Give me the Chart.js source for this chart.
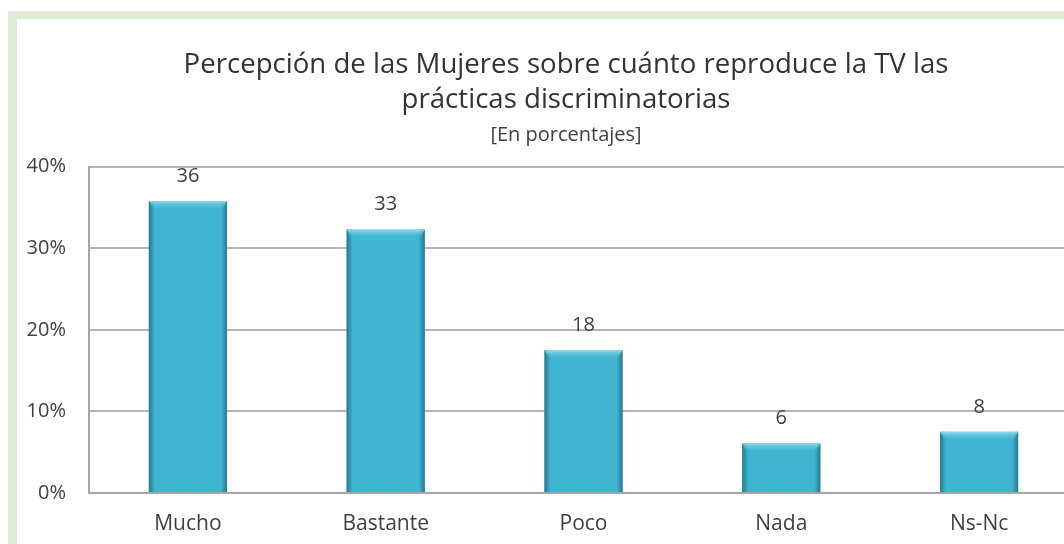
<!DOCTYPE html>
<html>
<head>
<meta charset="utf-8">
<script src="https://cdn.jsdelivr.net/npm/chart.js@4.4.1/dist/chart.umd.min.js"></script>
<style>
  html, body { margin: 0; padding: 0; background: #ffffff; overflow: hidden; width: 1064px; height: 544px; }
  #frame { position: absolute; left: 8px; top: 11px; width: 1200px; height: 700px; background: #dfebd5; }
  #inner { position: absolute; left: 17px; top: 19px; width: 1200px; height: 700px; background: #ffffff; }
  #wrap { position: absolute; left: 18px; top: 18px; width: 1096px; height: 520px; }
</style>
</head>
<body>
<div id="frame"></div>
<div id="inner"></div>
<div id="wrap"><canvas id="c"></canvas></div>
<script>
const categories = ["Mucho", "Bastante", "Poco", "Nada", "Ns-Nc"];
const values = [35.8, 32.3, 17.5, 6.1, 7.5];
const valueLabels = ["36", "33", "18", "6", "8"];
const yTicks = [0, 10, 20, 30, 40];
const titleLines = ["Percepción de las Mujeres sobre cuánto reproduce la TV las", "prácticas discriminatorias"];
const subtitleText = "[En porcentajes]";

const FONT = "'Open Sans', 'Noto Sans', sans-serif";

// shift the title block so it is centred over the whole (cropped) frame like the original
const titleShift = {
  id: 'titleShift',
  afterLayout(chart) {
    chart.boxes.forEach(b => {
      if (b.position === 'top' && b.options && 'text' in b.options) {
        b.left += 18; b.right += 18;
      }
    });
  }
};

const barStyle = {
  id: 'barStyle',
  afterDatasetsDraw(chart) {
    const ctx = chart.ctx;
    const meta = chart.getDatasetMeta(0);
    meta.data.forEach((bar, i) => {
      const p = bar.getProps(['x', 'y', 'base', 'width'], true);
      const l = p.x - p.width / 2, r = p.x + p.width / 2, t = p.y, b = p.base;
      ctx.save();
      let g = ctx.createLinearGradient(l, 0, l + 6, 0);
      g.addColorStop(0, 'rgba(30,110,135,0.85)');
      g.addColorStop(1, 'rgba(30,110,135,0)');
      ctx.fillStyle = g; ctx.fillRect(l, t, 6, b - t);
      g = ctx.createLinearGradient(r, 0, r - 6, 0);
      g.addColorStop(0, 'rgba(30,110,135,0.85)');
      g.addColorStop(1, 'rgba(30,110,135,0)');
      ctx.fillStyle = g; ctx.fillRect(r - 6, t, 6, b - t);
      g = ctx.createLinearGradient(0, t, 0, t + 7);
      g.addColorStop(0, 'rgba(150,220,238,0.95)');
      g.addColorStop(1, 'rgba(90,195,220,0.2)');
      ctx.fillStyle = g;
      ctx.beginPath();
      ctx.moveTo(l, t); ctx.lineTo(r, t); ctx.lineTo(r - 4, t + 7); ctx.lineTo(l + 4, t + 7); ctx.closePath();
      ctx.fill();
      ctx.fillStyle = '#404040';
      ctx.font = "20px " + FONT;
      ctx.textAlign = 'center';
      ctx.textBaseline = 'middle';
      ctx.fillText(valueLabels[i], p.x, t - 25);
      ctx.restore();
    });
  }
};

new Chart(document.getElementById('c'), {
  type: 'bar',
  data: {
    labels: categories,
    datasets: [{
      data: values,
      backgroundColor: '#3fb5d0',
      borderWidth: 0,
      categoryPercentage: 1.0,
      barPercentage: 0.395
    }]
  },
  options: {
    responsive: true,
    maintainAspectRatio: false,
    animation: false,
    layout: { padding: { left: 0, right: 36, top: 0, bottom: 0 } },
    plugins: {
      legend: { display: false },
      tooltip: { enabled: false },
      title: {
        display: true,
        text: titleLines,
        color: '#333333',
        font: { family: FONT, size: 27.6, weight: 'normal', lineHeight: 1.28 },
        padding: { top: 29, bottom: 3 }
      },
      subtitle: {
        display: true,
        text: subtitleText,
        color: '#404040',
        font: { family: FONT, size: 20, weight: 'normal', lineHeight: 1.2 },
        padding: { top: 3, bottom: 19 }
      }
    },
    scales: {
      x: {
        grid: { display: false, drawTicks: false },
        border: { display: true, color: '#a6a6a6', width: 2 },
        ticks: { color: '#404040', font: { family: FONT, size: 21 }, padding: 18 },
        afterFit(scale) { scale.height = 45; }
      },
      y: {
        min: 0, max: 40,
        afterBuildTicks(scale) { scale.ticks = yTicks.map(v => ({ value: v })); },
        grid: { color: '#b4b4b4', lineWidth: 2, drawTicks: false },
        border: { display: true, color: '#a6a6a6', width: 2 },
        ticks: { color: '#404040', font: { family: FONT, size: 20 }, padding: 23, callback: v => v + '%' },
        afterFit(scale) { scale.width = 71; }
      }
    }
  },
  plugins: [titleShift, barStyle]
});
</script>
</body>
</html>
